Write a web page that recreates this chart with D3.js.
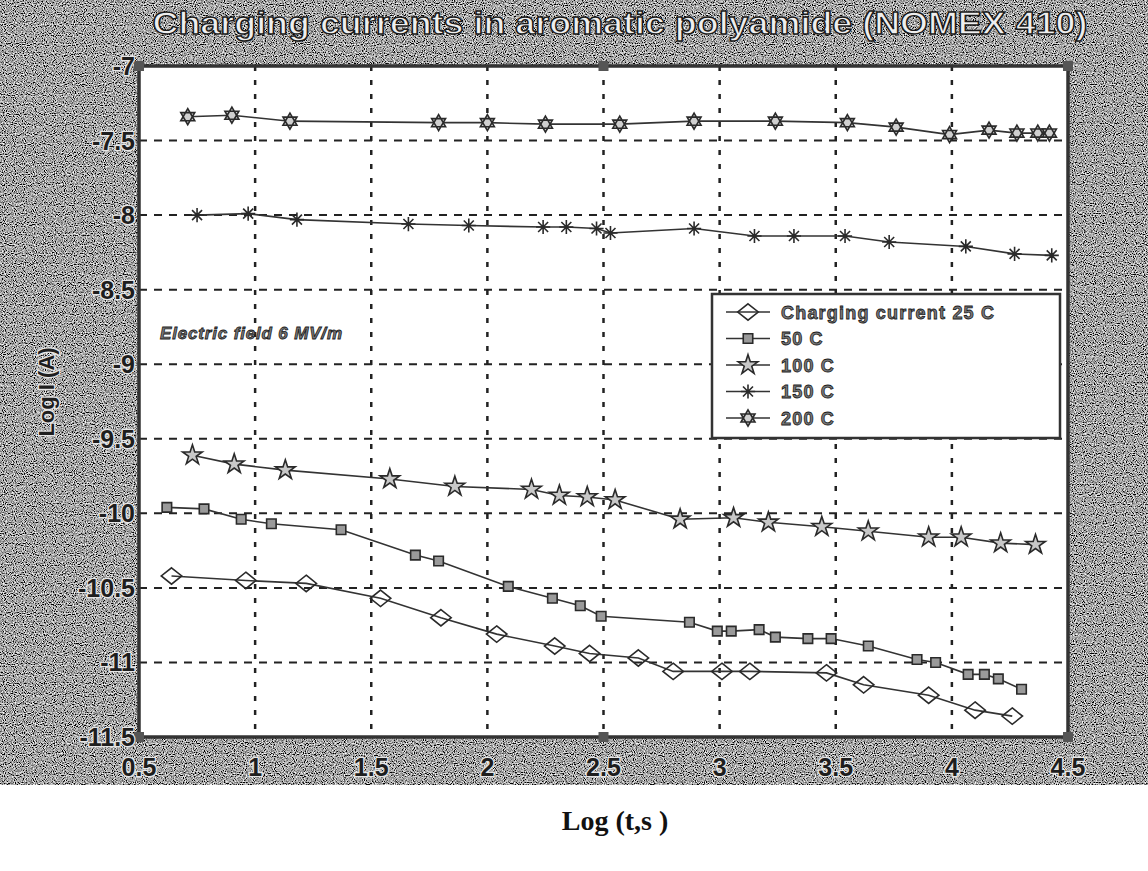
<!DOCTYPE html>
<html>
<head>
<meta charset="utf-8">
<script src="https://cdn.jsdelivr.net/npm/d3@7"></script>
<style>
body { margin: 0; background: #fff; }
</style>
</head>
<body>
<div class="chart"></div>
<script>
// tick labels
var xTicks = [0.5, 1, 1.5, 2, 2.5, 3, 3.5, 4, 4.5];
var yTicks = [-7, -7.5, -8, -8.5, -9, -9.5, -10, -10.5, -11, -11.5];

var seriesNames = ["Charging current 25 C", "50 C", "100 C", "150 C", "200 C"];

// log t values and log I values
var t25 = [0.64, 0.96, 1.22, 1.54, 1.80, 2.04, 2.29, 2.44, 2.65, 2.80, 3.01, 3.13, 3.46, 3.62, 3.90, 4.10, 4.26];
var i25 = [-10.42, -10.45, -10.47, -10.57, -10.70, -10.81, -10.89, -10.94, -10.97, -11.06, -11.06, -11.06, -11.07, -11.15, -11.22, -11.32, -11.36];

var t50 = [0.62, 0.78, 0.94, 1.07, 1.37, 1.69, 1.79, 2.09, 2.28, 2.40, 2.49, 2.87, 2.99, 3.05, 3.17, 3.24, 3.38, 3.48, 3.64, 3.85, 3.93, 4.07, 4.14, 4.20, 4.30];
var i50 = [-9.96, -9.97, -10.04, -10.07, -10.11, -10.28, -10.32, -10.49, -10.57, -10.62, -10.69, -10.73, -10.79, -10.79, -10.78, -10.83, -10.84, -10.84, -10.89, -10.98, -11.0, -11.08, -11.08, -11.11, -11.18];

var t100 = [0.73, 0.91, 1.13, 1.58, 1.86, 2.19, 2.31, 2.43, 2.55, 2.83, 3.06, 3.21, 3.44, 3.64, 3.90, 4.04, 4.21, 4.36];
var i100 = [-9.61, -9.67, -9.71, -9.77, -9.82, -9.84, -9.88, -9.89, -9.91, -10.04, -10.03, -10.06, -10.09, -10.12, -10.16, -10.16, -10.20, -10.21];

var t150 = [0.75, 0.97, 1.18, 1.66, 1.92, 2.24, 2.34, 2.47, 2.53, 2.89, 3.15, 3.32, 3.54, 3.73, 4.06, 4.27, 4.43];
var i150 = [-8.0, -7.99, -8.03, -8.06, -8.07, -8.08, -8.08, -8.09, -8.12, -8.09, -8.14, -8.14, -8.14, -8.18, -8.21, -8.26, -8.27];

var t200 = [0.71, 0.90, 1.15, 1.79, 2.00, 2.25, 2.57, 2.89, 3.24, 3.55, 3.76, 3.99, 4.16, 4.28, 4.37, 4.42];
var i200 = [-7.34, -7.33, -7.37, -7.38, -7.38, -7.39, -7.39, -7.37, -7.37, -7.38, -7.41, -7.46, -7.43, -7.45, -7.45, -7.45];

// marker shapes
var wideDiamond = {
	draw: function (ctx, size) {
		var r = Math.sqrt(size) / 2;
		ctx.moveTo(0, -r * 0.8);
		ctx.lineTo(r, 0);
		ctx.lineTo(0, r * 0.8);
		ctx.lineTo(-r, 0);
		ctx.closePath();
	}
};
var hexagram = {
	draw: function (ctx, size) {
		var r = Math.sqrt(size) / 2;
		[-90, 90].forEach(function (a0) {
			for (var k = 0; k < 3; k++) {
				var a = (a0 + k * 120) * Math.PI / 180;
				if (k == 0) ctx.moveTo(r * Math.cos(a), r * Math.sin(a));
				else ctx.lineTo(r * Math.cos(a), r * Math.sin(a));
			}
			ctx.closePath();
		});
	}
};
var asterisk8 = {
	draw: function (ctx, size) {
		var r = Math.sqrt(size) / 2;
		for (var k = 0; k < 4; k++) {
			var a = k * Math.PI / 4;
			ctx.moveTo(-r * Math.cos(a), -r * Math.sin(a));
			ctx.lineTo(r * Math.cos(a), r * Math.sin(a));
		}
	}
};

var series = [
	{ name: seriesNames[0], t: t25, i: i25, symbol: wideDiamond, size: 420, fill: "none" },
	{ name: seriesNames[1], t: t50, i: i50, symbol: d3.symbolSquare, size: 90, fill: "#9a9a9a" },
	{ name: seriesNames[2], t: t100, i: i100, symbol: d3.symbolStar, size: 120, fill: "#c8c8c8" },
	{ name: seriesNames[3], t: t150, i: i150, symbol: asterisk8, size: 200, fill: "none" },
	{ name: seriesNames[4], t: t200, i: i200, symbol: hexagram, size: 260, fill: "#d0d0d0" }
];

var W = 1148, H = 871;
var plotL = 139, plotR = 1068, plotT = 66, plotB = 737;

var svg = d3.select(".chart").append("svg")
	.attr("width", W)
	.attr("height", H)
	.attr("font-family", "Liberation Sans, Arial, sans-serif");

var defs = svg.append("defs");
var grain = defs.append("filter").attr("id", "grain")
	.attr("x", 0).attr("y", 0).attr("width", "100%").attr("height", "100%");
grain.append("feTurbulence")
	.attr("type", "fractalNoise")
	.attr("baseFrequency", 0.9)
	.attr("numOctaves", 1)
	.attr("seed", 7);
grain.append("feColorMatrix")
	.attr("type", "matrix")
	.attr("values", "2.4 0 0 0 -0.82  2.4 0 0 0 -0.82  2.4 0 0 0 -0.82  0 0 0 0 1");

// scanned grey background
svg.append("rect")
	.attr("x", 0).attr("y", 0)
	.attr("width", W).attr("height", 785)
	.attr("filter", "url(#grain)");

var x = d3.scaleLinear().domain([0.5, 4.5]).range([plotL, plotR]);
var y = d3.scaleLinear().domain([-11.5, -7]).range([plotB, plotT]);

svg.append("rect")
	.attr("x", plotL).attr("y", plotT)
	.attr("width", plotR - plotL).attr("height", plotB - plotT)
	.attr("fill", "#fff");

// grid
var grid = svg.append("g").attr("stroke", "#222").attr("stroke-width", 2);
grid.selectAll(".hg")
	.data(yTicks.slice(1, -1))
	.enter().append("line")
	.attr("x1", plotL).attr("x2", plotR)
	.attr("y1", function (d) { return y(d); })
	.attr("y2", function (d) { return y(d); })
	.attr("stroke-dasharray", "8,7");
grid.selectAll(".vg")
	.data(xTicks.slice(1, -1))
	.enter().append("line")
	.attr("y1", plotT).attr("y2", plotB)
	.attr("x1", function (d) { return x(d); })
	.attr("x2", function (d) { return x(d); })
	.attr("stroke-width", 2.5)
	.attr("stroke-dasharray", "5,9");

// frame
svg.append("rect")
	.attr("x", plotL).attr("y", plotT)
	.attr("width", plotR - plotL).attr("height", plotB - plotT)
	.attr("fill", "none")
	.attr("stroke", "#333")
	.attr("stroke-width", 3.5);

var blobs = [[x(0.5), plotT], [x(4.5), plotT], [x(0.5), plotB], [x(4.5), plotB], [x(2.5), plotT], [x(2.5), plotB]];
svg.selectAll(".blob")
	.data(blobs)
	.enter().append("rect")
	.attr("x", function (d) { return d[0] - 5; })
	.attr("y", function (d) { return d[1] - 5; })
	.attr("width", 10).attr("height", 10)
	.attr("fill", "#555");

// series
var line = d3.line()
	.x(function (d) { return x(d[0]); })
	.y(function (d) { return y(d[1]); });

series.forEach(function (s) {
	var pts = s.t.map(function (t, k) { return [t, s.i[k]]; });
	var g = svg.append("g");
	g.append("path")
		.datum(pts)
		.attr("d", line)
		.attr("fill", "none")
		.attr("stroke", "#333")
		.attr("stroke-width", 1.6);
	g.selectAll("path.m")
		.data(pts)
		.enter().append("path")
		.attr("class", "m")
		.attr("transform", function (d) { return "translate(" + x(d[0]) + "," + y(d[1]) + ")"; })
		.attr("d", d3.symbol().type(s.symbol).size(s.size))
		.attr("fill", s.fill)
		.attr("stroke", "#2a2a2a")
		.attr("stroke-width", 1.6);
});

// legend
var lg = svg.append("g");
lg.append("rect")
	.attr("x", 712).attr("y", 294)
	.attr("width", 348).attr("height", 144)
	.attr("fill", "#fff")
	.attr("stroke", "#333")
	.attr("stroke-width", 2.5);
series.forEach(function (s, k) {
	var ly = 312 + k * 26.5;
	lg.append("line")
		.attr("x1", 726).attr("x2", 770)
		.attr("y1", ly).attr("y2", ly)
		.attr("stroke", "#333").attr("stroke-width", 1.6);
	lg.append("path")
		.attr("transform", "translate(748," + ly + ")")
		.attr("d", d3.symbol().type(s.symbol).size(s.size))
		.attr("fill", s.fill)
		.attr("stroke", "#2a2a2a")
		.attr("stroke-width", 1.6);
	lg.append("text")
		.attr("x", 781).attr("y", ly + 6.5)
		.attr("font-size", 18)
		.attr("font-weight", "bold")
		.attr("letter-spacing", 1.2)
		.attr("fill", "#7a7a7a")
		.attr("stroke", "#1a1a1a")
		.attr("stroke-width", 0.8)
		.text(s.name);
});

svg.append("text")
	.attr("x", 160).attr("y", 339)
	.attr("font-size", 17)
	.attr("font-weight", "bold")
	.attr("font-style", "italic")
	.attr("textLength", 182)
	.attr("fill", "#7a7a7a")
	.attr("stroke", "#1a1a1a")
	.attr("stroke-width", 0.8)
	.text("Electric field  6 MV/m");

// labels on the grey: dark letters with a light halo
function haloed(sel, size) {
	return sel.attr("font-size", size)
		.attr("font-weight", "bold")
		.attr("fill", "#1e1e1e")
		.attr("stroke", "#e6e6e6")
		.attr("stroke-width", 2.5)
		.attr("paint-order", "stroke");
}

haloed(svg.selectAll(".yl")
	.data(yTicks)
	.enter().append("text")
	.attr("x", plotL - 4)
	.attr("y", function (d) { return y(d) + 9; })
	.attr("text-anchor", "end")
	.text(function (d) { return d; }), 25);

haloed(svg.selectAll(".xl")
	.data(xTicks)
	.enter().append("text")
	.attr("x", function (d) { return x(d); })
	.attr("y", 776)
	.attr("text-anchor", "middle")
	.text(function (d) { return d; }), 25);

haloed(svg.append("text")
	.attr("transform", "translate(54,392) rotate(-90)")
	.attr("text-anchor", "middle")
	.text("Log I (A)"), 22);

// title: light letters with dark outline
svg.append("text")
	.attr("x", 620).attr("y", 34)
	.attr("text-anchor", "middle")
	.attr("textLength", 935)
	.attr("lengthAdjust", "spacingAndGlyphs")
	.attr("font-size", 32)
	.attr("font-weight", "bold")
	.attr("fill", "#eeeeee")
	.attr("stroke", "#1a1a1a")
	.attr("stroke-width", 1.4)
	.text("Charging currents in aromatic polyamide (NOMEX 410)");

svg.append("text")
	.attr("x", 615).attr("y", 830)
	.attr("text-anchor", "middle")
	.attr("font-family", "Liberation Serif, Times New Roman, serif")
	.attr("font-weight", "bold")
	.attr("font-size", 28)
	.attr("fill", "#111")
	.text("Log (t,s )");
</script>
</body>
</html>
